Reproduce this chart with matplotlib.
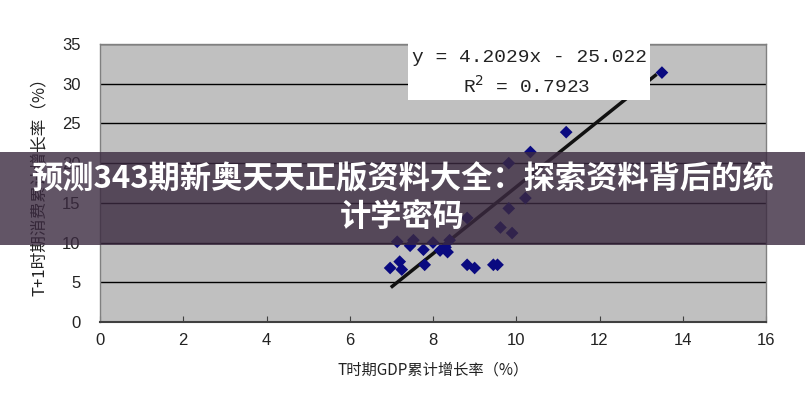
import matplotlib
matplotlib.use("Agg")
import matplotlib.pyplot as plt
import numpy as np
from matplotlib.patches import Rectangle

plt.rcParams['font.family'] = ['Noto Sans CJK SC', 'DejaVu Sans']

# data
gdp = [13.5, 11.2, 10.34, 9.82, 10.22, 9.82, 8.82, 9.62, 9.9, 7.14, 7.53, 7.77,
       8.17, 8.35, 7.2, 6.97, 7.8, 8.82, 9.0, 9.45, 9.55, 8.0, 8.3, 7.45, 8.4, 7.25]
cons = [31.4, 23.9, 21.4, 20.0, 15.6, 14.3, 13.1, 11.9, 11.2, 10.1, 10.3, 9.1,
        9.0, 8.8, 7.6, 6.8, 7.2, 7.2, 6.8, 7.2, 7.2, 10.0, 9.4, 9.6, 10.3, 6.6]
slope = 4.2029
intercept = -25.022
r2 = 0.7923
fit_x = [7.02, 13.34]

x_ticks = [0, 2, 4, 6, 8, 10, 12, 14, 16]
y_ticks = [0, 5, 10, 15, 20, 25, 30, 35]
xlabel = "T时期GDP累计增长率（%）"
ylabel = "T+1时期消费累计增长率（%）"
title = "预测343期新奥天天正版资料大全：探索资料背后的统\n计学密码"

fig = plt.figure(figsize=(8.05, 4.0), dpi=100)
fig.patch.set_facecolor('white')
ax = fig.add_axes([100/805, 1-322/400, 666/805, 278/400])
ax.set_facecolor('#c0c0c0')
ax.set_xlim(0, 16)
ax.set_ylim(0, 35)
ax.set_xticks(x_ticks)
ax.set_yticks(y_ticks)
ax.yaxis.grid(True, color='black', linewidth=1.0)
ax.set_axisbelow(True)
for s in ax.spines.values():
    s.set_color('#808080')
    s.set_linewidth(1.0)
ax.spines['bottom'].set_color('#404040')
ax.spines['bottom'].set_linewidth(1.5)
ax.tick_params(axis='x', direction='in', length=4, color='#404040', labelsize=12,
               labelcolor='#222222', pad=8)
ax.tick_params(axis='y', length=0, labelsize=12, labelcolor='#222222', pad=14)
for lab in ax.get_xticklabels() + ax.get_yticklabels():
    lab.set_family('Liberation Sans')

fx = np.array(fit_x)
ax.plot(fx, slope*fx + intercept, color='#111111', linewidth=2.5, zorder=3)
ax.scatter(gdp, cons, marker='D', s=42, color='#0a0a80', zorder=4, edgecolors='none')

ax.set_xlabel(xlabel, fontsize=11, color='#222222', labelpad=10)
ax.set_ylabel(ylabel, fontsize=12, color='#222222', labelpad=10)

# equation box
fig.patches.append(Rectangle((408/805, 1-100/400), 242/805, 58/400,
                             transform=fig.transFigure, facecolor='white',
                             edgecolor='none', zorder=5))
fig.text(529/805, 1-57/400, "y = 4.2029x - 25.022", ha='center', va='center',
         fontsize=14, family='Liberation Mono', color='#222222', zorder=6)
fig.text(527/805, 1-86/400, "R$^2$ = 0.7923", ha='center', va='center',
         fontsize=14, family='Liberation Mono', color='#222222', zorder=6)

# banner
fig.patches.append(Rectangle((0, 1-245/400), 1, 93/400, transform=fig.transFigure,
                             facecolor='#3b2a40', alpha=0.8, edgecolor='none', zorder=7))
fig.text(0.5, 1-198/400, title, ha='center', va='center', fontsize=22.5,
         fontweight='bold', color='white', linespacing=1.2, zorder=8)

fig.savefig('out.png', dpi=100)
